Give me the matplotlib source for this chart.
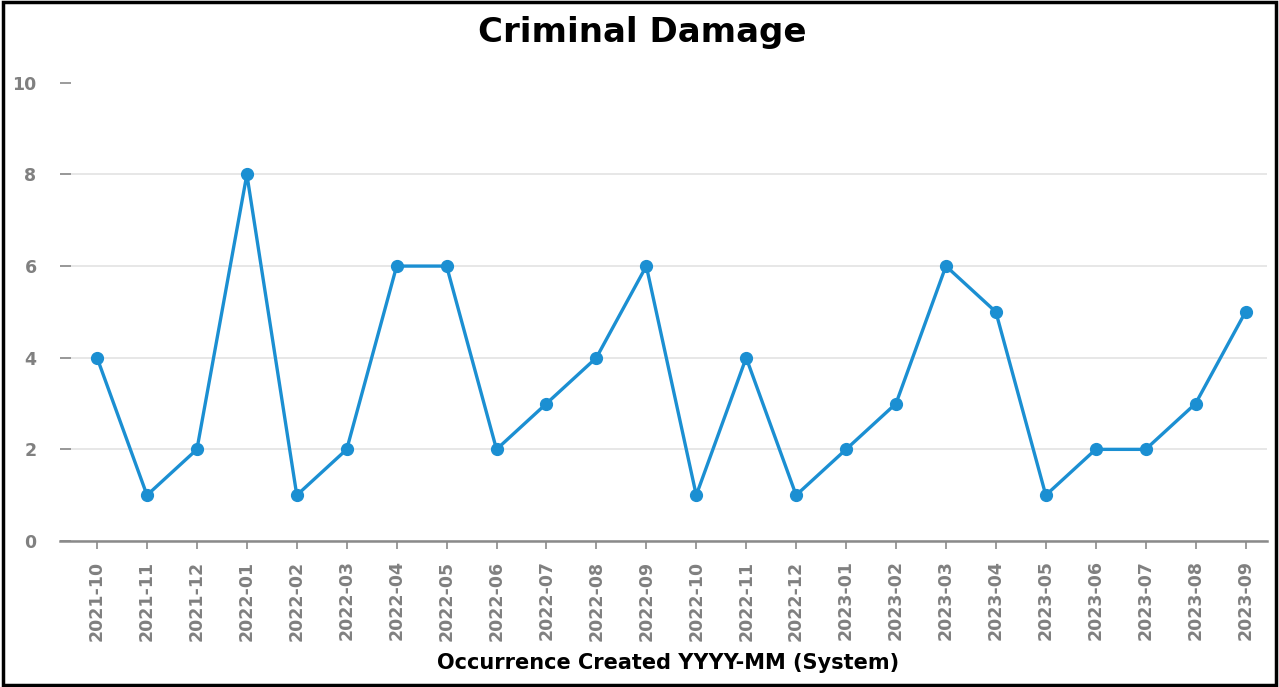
import matplotlib.pyplot as plt
from matplotlib.patches import Rectangle

plt.rcParams['font.family'] = ['DejaVu Sans']

months = ['2021-10', '2021-11', '2021-12', '2022-01', '2022-02', '2022-03',
          '2022-04', '2022-05', '2022-06', '2022-07', '2022-08', '2022-09',
          '2022-10', '2022-11', '2022-12', '2023-01', '2023-02', '2023-03',
          '2023-04', '2023-05', '2023-06', '2023-07', '2023-08', '2023-09']
counts = [4, 1, 2, 8, 1, 2, 6, 6, 2, 3, 4, 6, 1, 4, 1, 2, 3, 6, 5, 1, 2, 2, 3, 5]
yticks = [0, 2, 4, 6, 8, 10]

line_col = '#1b8fd2'
tick_col = '#808080'

fig = plt.figure(figsize=(12.79, 6.87), dpi=100)
ax = fig.add_axes([0.047, 0.2125, 0.944, 0.667])

x = range(len(months))
ax.plot(x, counts, color=line_col, lw=2.4, marker='o', ms=8.5, zorder=3)

ax.set_xlim(-0.74, 23.44)
ax.set_ylim(0, 10)
ax.set_yticks(yticks)
ax.set_xticks(list(x))
ax.set_xticklabels(months, rotation=90, fontsize=12.5, fontweight='bold', color=tick_col)
ax.set_yticklabels([str(v) for v in yticks], fontsize=12.5, fontweight='bold', color=tick_col)

ax.grid(axis='y', color='#e3e3e3', lw=1.2, zorder=0)
ax.yaxis.get_gridlines()[-1].set_visible(False)

for s in ['top', 'right', 'left']:
    ax.spines[s].set_visible(False)
ax.spines['bottom'].set_color('#8a8a8a')
ax.spines['bottom'].set_linewidth(1.8)
ax.tick_params(axis='x', length=6, width=1.2, color='#8a8a8a', pad=8)
ax.tick_params(axis='y', direction='in', length=8, width=1.2, color='#8a8a8a', pad=17)

fig.text(0.502, 0.953, 'Criminal Damage', fontsize=24.5, fontweight='bold',
         ha='center', va='center')
fig.text(0.522, 0.035, 'Occurrence Created YYYY-MM (System)', fontsize=15,
         fontweight='bold', ha='center', va='center')

fig.patches.append(Rectangle((0.002, 0.003), 0.996, 0.994, transform=fig.transFigure,
                             fill=False, edgecolor='black', lw=2.5))

fig.savefig('out.png', dpi=100)
